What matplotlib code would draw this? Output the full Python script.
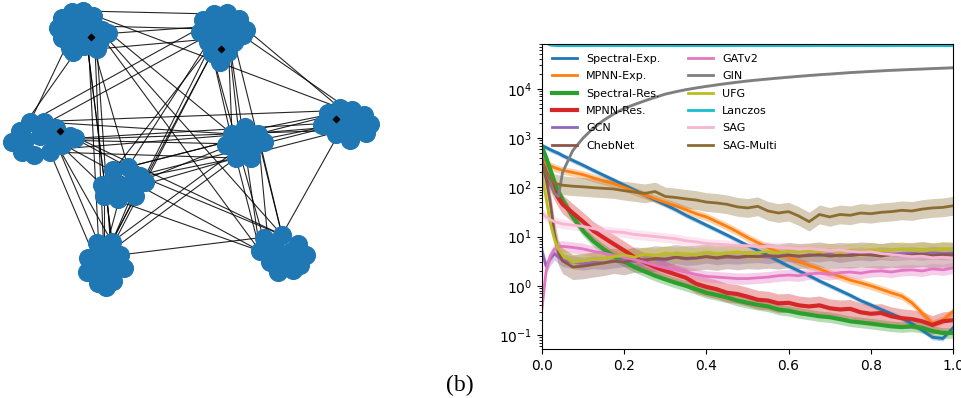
import numpy as np
import matplotlib
matplotlib.use("Agg")
import matplotlib.pyplot as plt

# ---------------- left panel: clustered graph (pixel coords) ----------------
clusters = [
    # A top-left
    [(62, 18), (72, 12), (83, 11), (93, 16), (58, 28), (70, 24), (82, 22), (94, 26),
     (102, 30), (108, 33), (62, 38), (75, 36), (88, 35), (100, 40), (70, 48), (84, 46),
     (73, 52), (97, 49), (90, 42), (80, 30)],
    # B top-center
    [(203, 20), (214, 14), (227, 13), (239, 19), (246, 30), (200, 32), (213, 27), (227, 25),
     (240, 36), (208, 42), (221, 38), (234, 42), (212, 53), (228, 52), (220, 62), (243, 35)],
    # C right
    [(328, 113), (340, 108), (352, 110), (364, 115), (370, 124), (322, 125), (335, 122),
     (348, 122), (360, 128), (336, 134), (350, 140), (366, 133), (345, 130)],
    # D left
    [(20, 131), (30, 122), (44, 122), (56, 128), (12, 142), (25, 140), (40, 136), (55, 140),
     (70, 136), (75, 138), (22, 152), (34, 155), (50, 152), (62, 145), (45, 128)],
    # E center
    [(245, 127), (232, 134), (258, 134), (226, 145), (240, 144), (255, 145), (264, 142),
     (236, 158), (251, 158), (246, 136)],
    # F center-left
    [(113, 170), (128, 167), (140, 176), (145, 182), (102, 185), (117, 184), (131, 183),
     (104, 196), (118, 199), (135, 196), (125, 190)],
    # G bottom-left
    [(97, 243), (112, 242), (120, 255), (88, 258), (104, 256), (124, 268), (87, 272),
     (100, 270), (113, 268), (98, 283), (113, 281), (106, 287)],
    # H bottom-right
    [(264, 238), (282, 235), (298, 244), (306, 255), (260, 251), (275, 249), (290, 252),
     (270, 262), (285, 264), (300, 265), (278, 272), (293, 270)],
]

# (cluster i, cluster j, number of edges)
edges = [
    (0, 1, 4), (0, 2, 1), (0, 3, 2), (0, 6, 5), (0, 7, 2), (0, 5, 1), (0, 4, 1),
    (1, 3, 2), (1, 5, 2), (1, 6, 3), (1, 4, 3), (1, 7, 3), (1, 2, 2),
    (2, 3, 4), (2, 4, 3), (2, 5, 2), (2, 7, 1),
    (3, 4, 3), (3, 5, 2), (3, 6, 3), (3, 7, 2),
    (4, 5, 4), (4, 6, 2), (4, 7, 3),
    (5, 6, 3), (5, 7, 2), (6, 7, 1),
]

inner_marks = [(91, 37), (221, 49), (336, 119), (60, 131)]

# ---------------- right panel: curves ----------------
t = [0, 0.01, 0.02, 0.03, 0.04, 0.05, 0.075, 0.1, 0.125, 0.15, 0.175, 0.2, 0.225, 0.25,
     0.275, 0.3, 0.325, 0.35, 0.375, 0.4, 0.425, 0.45, 0.475, 0.5, 0.525, 0.55, 0.575,
     0.6, 0.625, 0.65, 0.675, 0.7, 0.725, 0.75, 0.775, 0.8, 0.825, 0.85, 0.875, 0.9,
     0.925, 0.95, 0.975, 1.0]

spectral_exp = [700, 640, 580, 530, 490, 440, 350, 280, 220, 175, 140, 110, 88, 70, 55, 44,
                35, 27, 21.5, 17, 13.5, 10.7, 8.4, 6.6, 5.2, 4.1, 3.2, 2.5, 2.0, 1.6, 1.25,
                1.0, 0.8, 0.64, 0.5, 0.41, 0.33, 0.27, 0.22, 0.17, 0.125, 0.09, 0.085, 0.14]
mpnn_exp = [330, 300, 275, 250, 235, 220, 200, 180, 155, 135, 118, 100, 82, 70, 58, 49, 42,
            35, 29, 25, 20, 16, 12.5, 9.5, 7.5, 6.0, 4.8, 3.8, 3.1, 2.6, 2.2, 1.8, 1.55,
            1.3, 1.15, 1.0, 0.85, 0.72, 0.62, 0.45, 0.28, 0.17, 0.2, 0.3]
spectral_res = [650, 400, 230, 130, 80, 55, 25, 13, 8, 5.5, 4.0, 3.1, 2.4, 1.95, 1.6, 1.35,
                1.15, 1.0, 0.85, 0.72, 0.65, 0.58, 0.5, 0.45, 0.41, 0.38, 0.33, 0.31, 0.28,
                0.26, 0.24, 0.23, 0.21, 0.19, 0.18, 0.17, 0.16, 0.15, 0.145, 0.15, 0.14,
                0.12, 0.11, 0.11]
mpnn_res = [300, 200, 130, 85, 60, 45, 30, 20, 13, 9.5, 7, 5.2, 3.8, 3.0, 2.4, 2.0, 1.7,
            1.45, 1.1, 0.95, 0.85, 0.72, 0.68, 0.6, 0.52, 0.5, 0.44, 0.45, 0.4, 0.38, 0.4,
            0.35, 0.33, 0.34, 0.29, 0.27, 0.28, 0.24, 0.22, 0.21, 0.19, 0.16, 0.19, 0.2]
gcn = [5.0, 2.5, 3.5, 4.5, 3.8, 3.3, 3.0, 2.8, 3.0, 2.9, 3.1, 3.3, 3.1, 3.5, 3.4, 3.3, 3.8,
       3.5, 3.6, 3.9, 3.6, 3.8, 3.7, 3.9, 4.0, 3.8, 4.1, 4.2, 3.9, 4.3, 4.1, 4.4, 4.0, 4.3,
       4.5, 4.3, 4.6, 4.4, 4.5, 4.6, 4.4, 4.7, 4.5, 4.6]
chebnet = [360, 150, 50, 12, 4.7, 3.2, 2.4, 2.5, 2.7, 2.9, 3.2, 3.0, 3.4, 3.3, 3.6, 3.5,
           3.8, 3.6, 3.7, 3.9, 3.7, 4.0, 3.8, 4.0, 3.9, 4.1, 3.9, 4.2, 4.0, 4.1, 4.3, 4.0,
           4.2, 4.1, 4.3, 4.2, 4.0, 4.3, 4.1, 4.2, 4.4, 4.1, 4.3, 4.2]
gatv2 = [0.35, 2.0, 4.0, 5.5, 6.2, 6.3, 6.0, 5.6, 5.0, 4.6, 4.1, 3.8, 3.4, 3.0, 2.6, 2.3,
         2.1, 1.9, 1.7, 1.55, 1.5, 1.45, 1.4, 1.4, 1.45, 1.5, 1.6, 1.65, 1.6, 1.75, 1.8,
         1.7, 1.85, 1.9, 1.8, 1.95, 2.0, 1.9, 2.05, 2.1, 2.0, 2.2, 2.1, 2.3]
gin = [300, 200, 130, 75, 65, 200, 560, 1000, 1600, 2300, 3100, 4000, 4800, 5700, 6700,
       7800, 8700, 9600, 10400, 11200, 12000, 12800, 13600, 14400, 15100, 15800, 16500,
       17200, 17900, 18600, 19300, 19900, 20600, 21300, 21900, 22500, 23100, 23700,
       24200, 24700, 25200, 25700, 26200, 26700]
ufg = [170, 60, 19, 9, 5.5, 4.2, 3.0, 3.2, 3.4, 3.6, 3.9, 4.2, 3.8, 4.4, 4.1, 4.6, 4.3,
       4.5, 4.2, 4.7, 4.4, 4.6, 4.9, 4.5, 4.7, 5.0, 4.6, 5.0, 4.8, 5.1, 4.9, 5.2, 4.8, 5.3,
       5.0, 5.4, 5.1, 5.3, 5.6, 5.2, 5.5, 5.3, 5.6, 5.5]
lanczos = [120000, 85000, 77000, 75500, 75000, 75000, 74800, 75000, 75200, 74900, 75000,
           75100, 74800, 75000, 75200, 75000, 74900, 75000, 75100, 75000, 74800, 75000,
           75200, 75000, 74900, 75000, 75100, 75000, 74800, 75000, 75200, 75000, 74900,
           75000, 75100, 75000, 74800, 75000, 75200, 75000, 74900, 75000, 75100, 75000]
sag = [30, 25, 22, 20, 19, 18, 17, 16, 14.5, 13, 12.5, 12, 11, 10.5, 10, 9.5, 9, 8.2, 7.8,
       7.2, 7.0, 6.8, 6.6, 6.5, 6.2, 6.3, 6.0, 5.9, 5.6, 5.7, 5.4, 5.2, 5.3, 5.0, 4.8, 4.9,
       4.5, 4.3, 4.1, 3.9, 4.0, 3.7, 3.8, 3.6]
sag_multi = [280, 200, 150, 120, 115, 110, 105, 102, 98, 95, 92, 85, 80, 75, 82, 65, 62, 58,
             55, 50, 48, 45, 40, 38, 41, 33, 30, 32, 26, 20, 28, 25, 28, 27, 30, 29, 31, 32,
             34, 33, 36, 38, 39, 42]

names = ["Spectral-Exp.", "MPNN-Exp.", "Spectral-Res.", "MPNN-Res.", "GCN", "ChebNet",
         "GATv2", "GIN", "UFG", "Lanczos", "SAG", "SAG-Multi"]
series = [spectral_exp, mpnn_exp, spectral_res, mpnn_res, gcn, chebnet,
          gatv2, gin, ufg, lanczos, sag, sag_multi]
# multiplicative half-width of the shaded band
spread = [1.12, 1.2, 1.28, 1.55, 1.35, 1.8, 1.3, 1.05, 1.4, 1.02, 1.25, 1.55]
colors = ["#1f77b4", "#ff7f0e", "#2ca02c", "#d62728", "#9467bd", "#8c564b",
          "#e377c2", "#7f7f7f", "#bcbd22", "#17becf", "#f7b6d2", "#8c6d31"]
widths = [2, 2, 3, 3, 2, 2, 2, 2, 2, 2, 2, 2]

W, H = 961, 398
fig = plt.figure(figsize=(W / 100, H / 100), dpi=100)

# graph panel
axg = fig.add_axes([0, (H - 300) / H, 400 / W, 300 / H])
axg.set_xlim(0, 400)
axg.set_ylim(300, 0)
axg.axis("off")
for i, j, n in edges:
    ci, cj = clusters[i], clusters[j]
    for k in range(n):
        a = ci[(k * 5 + 2) % len(ci)]
        b = cj[(k * 3 + 1) % len(cj)]
        axg.plot([a[0], b[0]], [a[1], b[1]], color="black", lw=0.8, alpha=0.85, zorder=1)
for c in clusters:
    xs = [p[0] for p in c]
    ys = [p[1] for p in c]
    axg.scatter(xs, ys, s=190, color="#1f77b4", zorder=2, linewidths=0)
axg.scatter([p[0] for p in inner_marks], [p[1] for p in inner_marks], s=10,
            color="black", marker="D", zorder=3)

# curves panel
ax = fig.add_axes([542 / W, (H - 349) / H, 411 / W, 305 / H])
tt = np.array(t)
for name, vals, sp, col, lw in zip(names, series, spread, colors, widths):
    v = np.array(vals, dtype=float)
    ax.fill_between(tt, v / sp, v * sp, color=col, alpha=0.35, linewidth=0)
    ax.plot(tt, v, color=col, lw=lw, label=name)
ax.set_yscale("log")
ax.set_xlim(0, 1)
ax.set_ylim(0.052, 8.1e4)
ax.set_xticks([0, 0.2, 0.4, 0.6, 0.8, 1.0])
ax.tick_params(labelsize=10)
ax.legend(loc="upper left", ncol=2, frameon=False, fontsize=8,
          handlelength=2.25, labelspacing=0.66, columnspacing=2.5)

fig.text(460 / W, 1 - 385 / H, "(b)", family="Liberation Serif", fontsize=17,
         ha="center", va="center")

fig.savefig("out.png", dpi=100)
